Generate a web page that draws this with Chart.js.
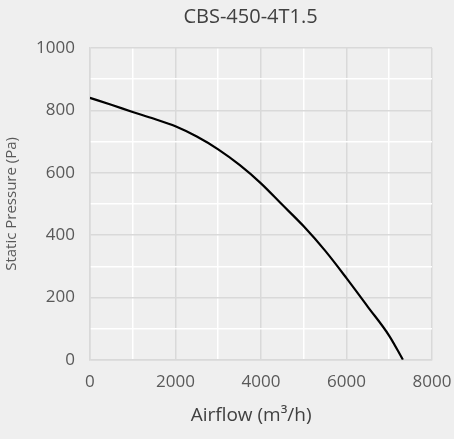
<!DOCTYPE html>
<html>
<head>
<meta charset="utf-8">
<script src="https://cdn.jsdelivr.net/npm/chart.js@4/dist/chart.umd.min.js"></script>
<style>
  html, body { margin: 0; padding: 0; background: #efefef; }
  #wrap { width: 454px; height: 439px; }
</style>
</head>
<body>
<div id="wrap"><canvas id="myChart" width="454" height="439"></canvas></div>
<script>
"use strict";

// fan curve
const airflow  = [0, 500, 1000, 1500, 2000, 2500, 3000, 3500, 4000, 4500, 5000, 5500, 6000, 6500, 7000, 7320];
const pressure = [840, 818, 795, 773, 749, 716, 675, 625, 566, 497, 428, 350, 262, 170, 77, 0];

const xTicks = [0, 2000, 4000, 6000, 8000];
const yTicks = [0, 200, 400, 600, 800, 1000];

const points = airflow.map((x, i) => ({x: x, y: pressure[i]}));

const fontFam = "'Open Sans', 'Noto Sans', sans-serif";
// trailing spaces nudge the centred titles a little left, like the original
const pad = '    ';

function gridColor(ctx, labelled){
    const v = ctx.tick ? ctx.tick.value : 0;
    return labelled.includes(v) ? '#d9d9d9' : '#ffffff';
}

const ctx = document.getElementById('myChart').getContext('2d');
const myChart = new Chart(ctx, {
    type: 'scatter',
    data: {
        datasets: [{
            data: points,
            showLine: true,
            borderColor: '#000000',
            borderWidth: 2.2,
            pointRadius: 0,
            cubicInterpolationMode: 'monotone'
        }]
    },
    options: {
        responsive: false,
        animation: false,
        layout: {padding: {left: 3, right: 22, top: 0, bottom: 12}},
        plugins: {
            legend: {display: false},
            tooltip: {enabled: false},
            title: {
                display: true,
                fullSize: false,
                text: 'CBS-450-4T1.5' + pad,
                color: '#404040',
                font: {family: fontFam, size: 20, weight: 'normal'},
                padding: {top: 5, bottom: 19}
            }
        },
        scales: {
            x: {
                type: 'linear',
                min: 0, max: 8000,
                afterFit: s => { s.paddingRight = 0; s.paddingLeft = 0; },
                ticks: {
                    stepSize: 1000,
                    autoSkip: false,
                    maxRotation: 0,
                    color: '#595959',
                    font: {family: fontFam, size: 17},
                    padding: 12,
                    callback: v => xTicks.includes(v) ? String(v) : ''
                },
                grid: {
                    color: c => gridColor(c, xTicks),
                    lineWidth: 1.5,
                    drawTicks: false
                },
                border: {color: '#d9d9d9', width: 1.5},
                title: {
                    display: true,
                    text: 'Airflow (m\u00b3/h)' + pad,
                    color: '#404040',
                    font: {family: fontFam, size: 19},
                    padding: {top: 0, bottom: 0}
                }
            },
            y: {
                min: 0, max: 1000,
                ticks: {
                    stepSize: 100,
                    autoSkip: false,
                    color: '#595959',
                    font: {family: fontFam, size: 17},
                    padding: 15,
                    callback: v => yTicks.includes(v) ? String(v) : ''
                },
                grid: {
                    color: c => gridColor(c, yTicks),
                    lineWidth: 1.5,
                    drawTicks: false
                },
                border: {color: '#d9d9d9', width: 1.5},
                title: {
                    display: true,
                    text: 'Static Pressure (Pa)',
                    color: '#595959',
                    font: {family: fontFam, size: 15},
                    padding: {top: 0, bottom: 0}
                }
            }
        }
    }
});
</script>
</body>
</html>
